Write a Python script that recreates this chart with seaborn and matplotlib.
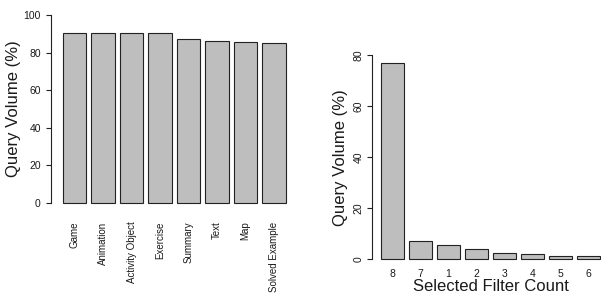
import matplotlib
matplotlib.use("Agg")
import matplotlib.pyplot as plt
import seaborn as sns
import pandas as pd

sns.set_style("white")
plt.rcParams["font.family"] = ["Liberation Sans", "DejaVu Sans"]

# left panel: query volume per resource type
types = ["Game", "Animation", "Activity Object", "Exercise", "Summary", "Text", "Map", "Solved Example"]
type_volume = [90.6, 90.3, 90.2, 90.2, 87.1, 86.0, 85.6, 85.3]

# right panel: query volume per number of selected filters
filter_counts = ["8", "7", "1", "2", "3", "4", "5", "6"]
filter_volume = [77.0, 7.0, 5.7, 3.9, 2.3, 2.0, 1.4, 1.2]

df_types = pd.DataFrame({"type": types, "volume": type_volume})
df_filters = pd.DataFrame({"count": filter_counts, "volume": filter_volume})

W, H = 601, 294
fig = plt.figure(figsize=(W / 100, H / 100), dpi=100)

BAR_COLOR = "#bebebe"
EDGE = "#222222"
TEXT = "#1a1a1a"


def px_axes(left, right, top, bottom):
    return fig.add_axes([left / W, 1 - bottom / H, (right - left) / W, (bottom - top) / H])


def style(ax):
    for s in ["top", "right", "bottom"]:
        ax.spines[s].set_visible(False)
    ax.spines["left"].set_color(EDGE)
    ax.spines["left"].set_linewidth(0.8)
    ax.tick_params(axis="y", left=True, direction="out", length=3.3, width=0.8,
                   color=EDGE, labelsize=7.5, labelcolor=TEXT)
    ax.tick_params(axis="x", bottom=False, length=0, labelcolor=TEXT)


# ---------------------------------------------------------------------------
# Left: resource types
# ---------------------------------------------------------------------------
ax1 = px_axes(51, 297.7, 7.5, 210.5)
sns.barplot(data=df_types, x="type", y="volume", order=types, color=BAR_COLOR,
            edgecolor=EDGE, linewidth=0.8, width=0.833, saturation=1, ax=ax1)
ax1.set_xlim(-0.828, 7.828)
ax1.set_ylim(-4, 104)
ax1.set_yticks([0, 20, 40, 60, 80, 100])
ax1.spines["left"].set_bounds(0, 100)
style(ax1)
ax1.tick_params(axis="y", pad=4)
ax1.tick_params(axis="x", labelsize=7, labelrotation=90, pad=8)
ax1.set_xlabel("")
ax1.set_ylabel("Query Volume (%)", fontsize=12, color=TEXT, labelpad=2)

# ---------------------------------------------------------------------------
# Right: selected filter count
# ---------------------------------------------------------------------------
ax2 = px_axes(372, 609, 46.8, 267.5)
sns.barplot(data=df_filters, x="count", y="volume", order=filter_counts, color=BAR_COLOR,
            edgecolor=EDGE, linewidth=0.8, width=0.833, saturation=1, ax=ax2)
ax2.set_xlim(-0.738, 7.738)
ax2.set_ylim(-3.2, 83.2)
ax2.set_yticks([0, 20, 40, 60, 80])
ax2.spines["left"].set_bounds(0, 80)
style(ax2)
ax2.tick_params(axis="y", pad=3)
for lab in ax2.get_yticklabels():
    lab.set_rotation(90)
    lab.set_va("center")
ax2.tick_params(axis="x", labelsize=7.5, pad=1)
ax2.set_xlabel("Selected Filter Count", fontsize=12, color=TEXT, labelpad=0)
ax2.set_ylabel("Query Volume (%)", fontsize=12, color=TEXT, labelpad=4)

fig.savefig("out.png", dpi=100)
